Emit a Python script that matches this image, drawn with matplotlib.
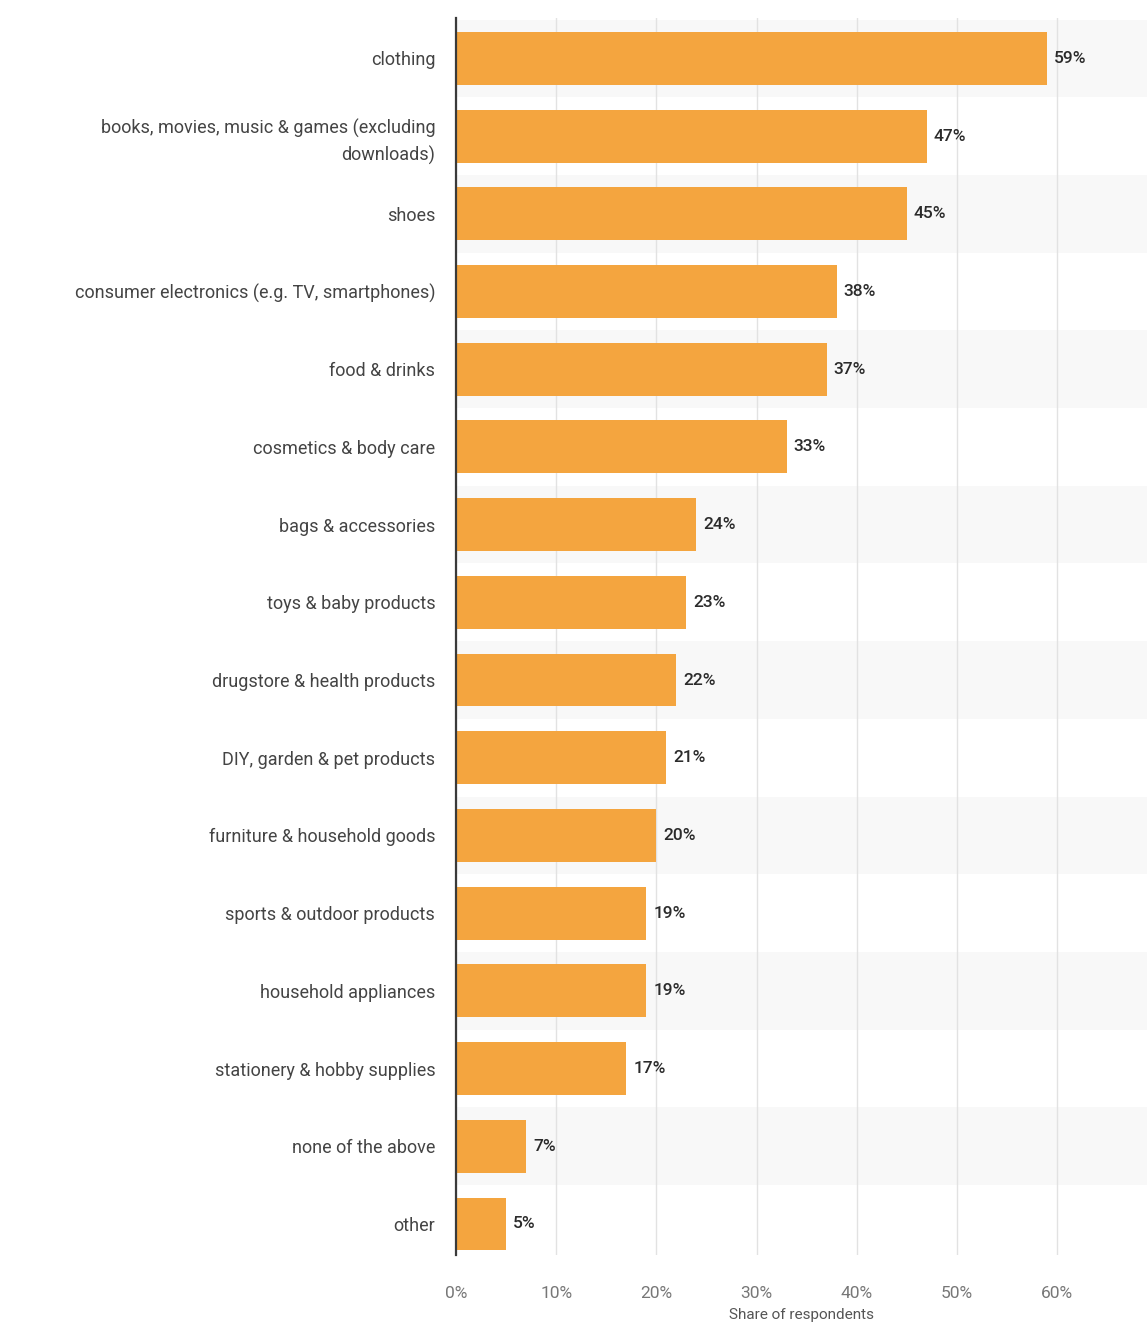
import matplotlib
matplotlib.use("Agg")
import matplotlib.pyplot as plt
from matplotlib import font_manager

categories = [
    "clothing",
    "books, movies, music & games (excluding\ndownloads)",
    "shoes",
    "consumer electronics (e.g. TV, smartphones)",
    "food & drinks",
    "cosmetics & body care",
    "bags & accessories",
    "toys & baby products",
    "drugstore & health products",
    "DIY, garden & pet products",
    "furniture & household goods",
    "sports & outdoor products",
    "household appliances",
    "stationery & hobby supplies",
    "none of the above",
    "other",
]
values = [59, 47, 45, 38, 37, 33, 24, 23, 22, 21, 20, 19, 19, 17, 7, 5]
x_ticks = [0, 10, 20, 30, 40, 50, 60]
x_tick_labels = ["0%", "10%", "20%", "30%", "40%", "50%", "60%"]
x_label = "Share of respondents"

available = {f.name for f in font_manager.fontManager.ttflist}
family = "Liberation Sans Narrow" if "Liberation Sans Narrow" in available else "Roboto"
plt.rcParams["font.family"] = [family, "DejaVu Sans"]

W, H = 1147, 1335
fig = plt.figure(figsize=(W / 100, H / 100), dpi=100)
fig.patch.set_facecolor("white")

left_px, right_px, top_px, bottom_px = 456, 1147, 18, 1255
ax = fig.add_axes([left_px / W, 1 - bottom_px / H,
                   (right_px - left_px) / W, (bottom_px - top_px) / H])
ax.set_facecolor("white")

n = len(categories)
ypos = list(range(n))

# faint alternating row bands
for i in ypos:
    if i % 2 == 0:
        ax.axhspan(i - 0.5, i + 0.5, color="#f8f8f8", zorder=0, lw=0)

ax.barh(ypos, values, height=0.68, color="#F4A53F", zorder=3)

for y, v in zip(ypos, values):
    ax.text(v + 0.7, y, f"{v}%", va="center", ha="left", fontsize=12.5,
            color="#2b2b2b", fontweight="medium", zorder=4)

ax.set_xlim(0, (right_px - left_px) / 100.2 * 10)
ax.set_ylim(n - 0.6, -0.52)
ax.set_xticks(x_ticks)
ax.set_xticklabels(x_tick_labels, fontsize=12.5, color="#777777")
ax.set_yticks(ypos)
ax.set_yticklabels(categories, fontsize=13, color="#444444", linespacing=1.5)
ax.tick_params(axis="both", length=0)
ax.tick_params(axis="y", pad=15)
ax.tick_params(axis="x", pad=22)

ax.grid(axis="x", color="#e2e2e2", lw=1, zorder=1)
ax.set_axisbelow(True)
for s in ["top", "right", "bottom"]:
    ax.spines[s].set_visible(False)
ax.spines["left"].set_color("#3a3a3a")
ax.spines["left"].set_linewidth(1.6)
ax.spines["left"].set_zorder(5)

ax.set_xlabel(x_label, fontsize=11, color="#555555", labelpad=5)

fig.savefig("out.png", dpi=100, facecolor="white")
